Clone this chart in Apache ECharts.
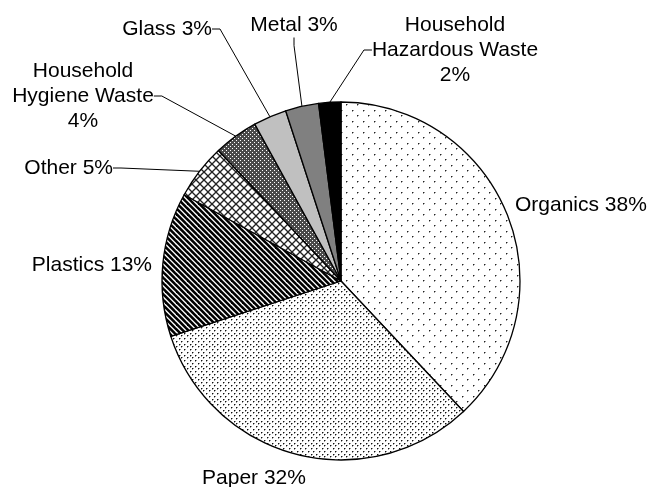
<!DOCTYPE html>
<html><head><meta charset="utf-8">
<script src="https://cdn.jsdelivr.net/npm/echarts@6/dist/echarts.min.js"></script>
<style>html,body{margin:0;padding:0;background:#fff}#c{width:651px;height:487px}</style>
</head><body><div id="c"></div>
<script>
// ---- data ----
const categories = ['Organics', 'Paper', 'Plastics', 'Other', 'Household\nHygiene Waste', 'Glass', 'Metal', 'Household\nHazardous Waste'];
const values = [38, 32, 13, 5, 4, 3, 3, 2];
const showLeader = [false, false, false, true, true, true, true, true];

// ---- layout (label anchor positions, not data) ----
const labelSpots = [
  [515, 205, 'left'], [254, 478, 'center'], [152, 265, 'right'], [113, 168, 'right'],
  [83, 96, 'center'], [212, 29, 'right'], [294, 25, 'center'], [455, 50, 'center']
];

function makePattern(w, h, draw) {
  const c = document.createElement('canvas');
  c.width = w; c.height = h;
  const g = c.getContext('2d');
  g.fillStyle = '#fff'; g.fillRect(0, 0, w, h);
  draw(g, w, h);
  return { image: c, repeat: 'repeat' };
}
function dot(g, x, y, dark) {
  g.fillStyle = dark; g.fillRect(x, y, 1, 1);
  g.fillStyle = '#999'; g.fillRect(x + 1, y, 1, 1); g.fillRect(x, y + 1, 1, 1);
}
const patOrganics = makePattern(11, 11, (g) => { dot(g, 0, 0, '#222'); dot(g, 5, 5, '#222'); });
const patPaper = makePattern(11, 11, (g) => {
  [[0, 0], [5, 0], [3, 3], [8, 3], [0, 5], [5, 5], [3, 8], [8, 8]].forEach(p => dot(g, p[0], p[1], '#111'));
});
const patPlastics = makePattern(11, 11, (g) => {
  g.strokeStyle = '#000'; g.lineWidth = 2.6;
  for (let x = -22; x <= 22; x += 5.5) { g.beginPath(); g.moveTo(x, -1); g.lineTo(x + 13, 12); g.stroke(); }
});
const patOther = makePattern(8, 8, (g) => {
  g.strokeStyle = '#222'; g.lineWidth = 1.3;
  g.beginPath(); g.moveTo(-1, -1); g.lineTo(9, 9); g.stroke();
  g.beginPath(); g.moveTo(9, -1); g.lineTo(-1, 9); g.stroke();
});
const patHygiene = makePattern(4, 4, (g) => {
  g.fillStyle = '#4a4a4a'; g.fillRect(0, 0, 4, 4);
  g.fillStyle = '#fff'; g.fillRect(0, 0, 1, 1); g.fillRect(2, 2, 1, 1);
});
const fills = [patOrganics, patPaper, patPlastics, patOther, patHygiene, '#c0c0c0', '#808080', '#000000'];

const chart = echarts.init(document.getElementById('c'), null, { renderer: 'canvas' });
chart.setOption({
  animation: false,
  backgroundColor: '#fff',
  series: [{
    type: 'pie',
    center: [341, 281],
    radius: 179,
    startAngle: 90,
    clockwise: true,
    avoidLabelOverlap: false,
    emphasis: { disabled: true },
    itemStyle: { borderColor: '#000', borderWidth: 1.3 },
    label: {
      show: true, position: 'outside', color: '#000',
      fontFamily: 'Liberation Sans, Arial, sans-serif', fontSize: 21, lineHeight: 25,
      formatter: (p) => p.name + (p.name.indexOf('\n') >= 0 ? '\n' : ' ') + p.value + '%'
    },
    labelLine: { show: true, length: 10, length2: 8, lineStyle: { color: '#000', width: 1 } },
    labelLayout: (p) => {
      const s = labelSpots[p.dataIndex];
      return { x: s[0], y: s[1], align: s[2], verticalAlign: 'middle' };
    },
    data: categories.map((n, i) => ({
      name: n, value: values[i],
      itemStyle: { color: fills[i] },
      labelLine: { show: showLeader[i] }
    }))
  }]
});
</script></body></html>
